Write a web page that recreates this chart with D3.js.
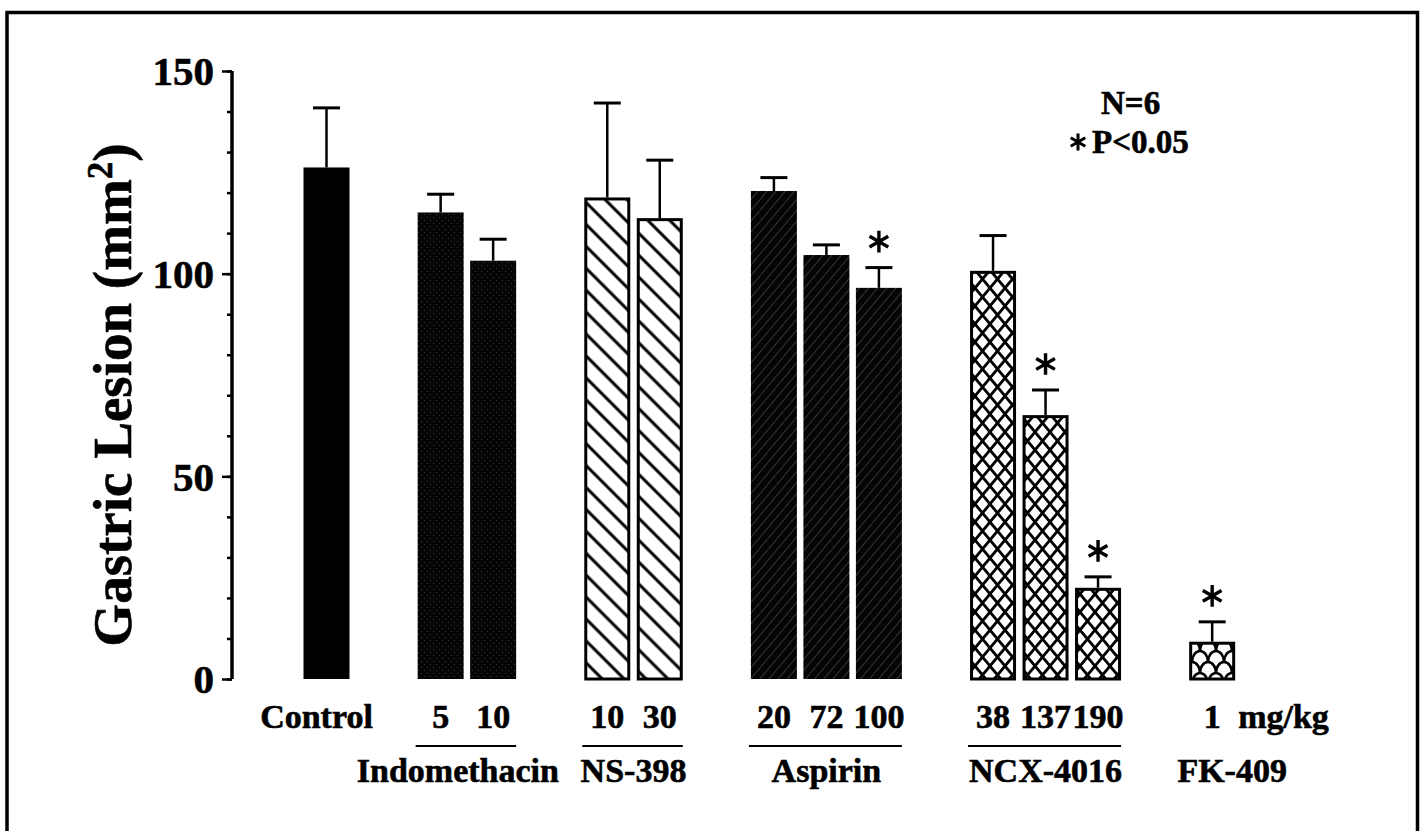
<!DOCTYPE html>
<html>
<head>
<meta charset="utf-8">
<script src="https://cdn.jsdelivr.net/npm/d3@7"></script>
<style>
  html, body { margin: 0; padding: 0; background: #fff; }
  svg { display: block; }
  text { font-family: "Liberation Serif", "Times New Roman", serif; font-weight: bold; fill: #000; stroke: #000; stroke-width: 0.6px; }
</style>
</head>
<body>
<svg id="chart" width="1425" height="831"></svg>
<script>
// ---------------- data ----------------
const groupNames   = ["Control", "Indomethacin", "NS-398", "Aspirin", "NCX-4016", "FK-409"];
const doseLabels   = ["Control", "5", "10", "10", "30", "20", "72", "100", "38", "137", "190", "1"];
const barGroup     = [0, 1, 1, 2, 2, 3, 3, 3, 4, 4, 4, 5];
const meanValues   = [126.2, 115.1, 103.2, 118.8, 113.7, 120.4, 104.6, 96.5, 100.7, 65.1, 22.5, 9.2];
const semValues    = [14.7, 4.5, 5.3, 23.3, 14.3, 3.3, 2.5, 5.0, 8.7, 6.2, 2.7, 4.9];
const significant  = [false, false, false, false, false, false, false, true, false, true, true, true];
const yMajorTicks  = [0, 50, 100, 150];
const yMinorTicks  = d3.range(0, 151, 10);
const unitLabel    = "mg/kg";
const legendLines  = ["N=6", "P<0.05"];

// ---------------- layout ----------------
const svg = d3.select("#chart");
const gapRatio = 1.174;               // extra spacing between drug groups (in bar slots)
const slots = barGroup.map((g, k) => k + g * gapRatio);
const x = d3.scaleLinear().domain([0, 1]).range([326.5, 379]);
const y = d3.scaleLinear().domain([0, 150]).range([679, 71]);
const barW = 46;

// ---------------- patterns ----------------
const defs = svg.append("defs");

// Indomethacin: black with faint fine dots
const pIndo = defs.append("pattern").attr("id", "pIndo").attr("patternUnits", "userSpaceOnUse")
  .attr("width", 6).attr("height", 6);
pIndo.append("rect").attr("width", 6).attr("height", 6).attr("fill", "#050505");
pIndo.append("circle").attr("cx", 1.5).attr("cy", 1.5).attr("r", 0.6).attr("fill", "#3c3c3c");
pIndo.append("circle").attr("cx", 4.5).attr("cy", 4.5).attr("r", 0.6).attr("fill", "#3c3c3c");

// NS-398: white with bold "\" hatching
const pNS = defs.append("pattern").attr("id", "pNS").attr("patternUnits", "userSpaceOnUse")
  .attr("width", 15.5).attr("height", 15.5).attr("patternTransform", "rotate(-45)");
pNS.append("rect").attr("width", 15.5).attr("height", 15.5).attr("fill", "#fff");
pNS.append("line").attr("x1", 7.75).attr("x2", 7.75).attr("y1", 0).attr("y2", 15.5)
  .attr("stroke", "#000").attr("stroke-width", 3);

// Aspirin: black with faint thin "/" lines
const pAsp = defs.append("pattern").attr("id", "pAsp").attr("patternUnits", "userSpaceOnUse")
  .attr("width", 7).attr("height", 7).attr("patternTransform", "rotate(40)");
pAsp.append("rect").attr("width", 7).attr("height", 7).attr("fill", "#050505");
pAsp.append("line").attr("x1", 3.5).attr("x2", 3.5).attr("y1", 0).attr("y2", 7)
  .attr("stroke", "#3a3a3a").attr("stroke-width", 0.9);

// NCX-4016: crosshatch diamonds
const cw = 15, ch = 18;
const pNCX = defs.append("pattern").attr("id", "pNCX").attr("patternUnits", "userSpaceOnUse")
  .attr("width", cw).attr("height", ch);
pNCX.append("rect").attr("width", cw).attr("height", ch).attr("fill", "#fff");
let cross = "";
[-cw, 0, cw].forEach(o => {
  cross += `M${o},0L${o + cw},${ch}M${o + cw},0L${o},${ch}`;
});
pNCX.append("path").attr("d", cross).attr("stroke", "#000").attr("stroke-width", 2.8).attr("fill", "none");

// FK-409: fish scales
const fw = 16, fh = 22;
const pFK = defs.append("pattern").attr("id", "pFK").attr("patternUnits", "userSpaceOnUse")
  .attr("width", fw).attr("height", fh).attr("y", 2);
pFK.append("rect").attr("width", fw).attr("height", fh).attr("fill", "#fff");
const rx = fw / 2, ry = fh / 2;
const scales =
  `M0,${ry}A${rx},${ry} 0 0 1 ${fw},${ry}` +
  `M${-rx},${fh}A${rx},${ry} 0 0 1 ${rx},${fh}` +
  `M${rx},${fh}A${rx},${ry} 0 0 1 ${fw + rx},${fh}` +
  `M0,${fh + ry}A${rx},${ry} 0 0 1 ${fw},${fh + ry}` +
  `M${-rx},0A${rx},${ry} 0 0 1 ${rx},0M${rx},0A${rx},${ry} 0 0 1 ${fw + rx},0`;
pFK.append("path").attr("d", scales).attr("stroke", "#000").attr("stroke-width", 2.6).attr("fill", "none");

const groupFill   = ["#000", "url(#pIndo)", "url(#pNS)", "url(#pAsp)", "url(#pNCX)", "url(#pFK)"];
const groupStroke = [false, false, true, false, true, true];

// ---------------- frame ----------------
svg.append("path")
  .attr("d", "M7,840V12.5H1417.5V840")
  .attr("fill", "none").attr("stroke", "#000").attr("stroke-width", 3.5);

// ---------------- y axis ----------------
const axMinor = svg.append("g").attr("transform", "translate(232,0)")
  .call(d3.axisLeft(y).tickValues(yMinorTicks).tickSize(5).tickFormat(""));
const axMajor = svg.append("g").attr("transform", "translate(232,0)")
  .call(d3.axisLeft(y).tickValues(yMajorTicks).tickSize(10).tickPadding(8).tickFormat(d3.format("d")));
[axMinor, axMajor].forEach(a => {
  a.select(".domain").attr("stroke", "#000").attr("stroke-width", 3)
    .attr("d", `M0,${y(150)}V${y(0)}`);
  a.selectAll(".tick line").attr("stroke", "#000").attr("stroke-width", 2.5);
});
axMajor.selectAll(".tick text")
  .style("font-family", "'Liberation Serif', serif").style("font-weight", "bold")
  .style("font-size", "41px").attr("fill", "#000").attr("dy", "0.34em");

// axis title
svg.append("text")
  .attr("transform", `translate(131,395) rotate(-90)`)
  .attr("text-anchor", "middle")
  .style("font-size", "55px")
  .text("Gastric Lesion (mm")
  .append("tspan").attr("baseline-shift", "super").style("font-size", "35px").text("2")
  .select(function() { return this.parentNode; })
  .append("tspan").text(")");

// ---------------- bars ----------------
const bars = svg.append("g");
meanValues.forEach((v, i) => {
  const cx = x(slots[i]);
  const g = barGroup[i];
  const sw = groupStroke[g] ? 3 : 0;
  bars.append("rect")
    .attr("x", cx - barW / 2 + sw / 2).attr("width", barW - sw)
    .attr("y", y(v) + sw / 2).attr("height", y(0) - y(v) - sw / 2)
    .attr("fill", groupFill[g])
    .attr("stroke", sw ? "#000" : "none").attr("stroke-width", sw);
  const top = y(v + semValues[i]);
  bars.append("line").attr("x1", cx).attr("x2", cx).attr("y1", y(v)).attr("y2", top)
    .attr("stroke", "#000").attr("stroke-width", 2.5);
  bars.append("line").attr("x1", cx - 13.5).attr("x2", cx + 13.5).attr("y1", top).attr("y2", top)
    .attr("stroke", "#000").attr("stroke-width", 3);
  if (significant[i]) {
    bars.append("path").attr("d", d3.symbol(d3.symbolAsterisk, 330)())
      .attr("transform", `translate(${cx},${top - 26})`)
      .attr("stroke", "#000").attr("stroke-width", 3.4).attr("fill", "none");
  }
});

// ---------------- x labels ----------------
const labels = svg.append("g").style("font-size", "34px");
doseLabels.forEach((d, i) => {
  labels.append("text").attr("x", x(slots[i]) + (i === 0 ? -10 : 0)).attr("y", 728)
    .attr("text-anchor", "middle").text(d);
});
labels.append("text").attr("x", x(slots[slots.length - 1]) + 26).attr("y", 728)
  .attr("text-anchor", "start").text(unitLabel);

groupNames.forEach((name, g) => {
  const idx = d3.range(barGroup.length).filter(i => barGroup[i] === g);
  const left = x(slots[idx[0]]) - barW / 2;
  const right = x(slots[idx[idx.length - 1]]) + barW / 2;
  if (g === 0) return;
  if (idx.length > 1) {
    svg.append("line").attr("x1", left - 2).attr("x2", right).attr("y1", 746).attr("y2", 746)
      .attr("stroke", "#000").attr("stroke-width", 2.2);
  }
  const dx = g === 5 ? 20 : (g === 1 ? -9 : 0);
  labels.append("text").attr("x", (left + right) / 2 + dx).attr("y", 782)
    .attr("text-anchor", "middle").text(name);
});

// ---------------- legend ----------------
const legend = svg.append("g").style("font-size", "33px");
legend.append("text").attr("x", 1101).attr("y", 114).text(legendLines[0]);
legend.append("text").attr("x", 1092).attr("y", 153).text(legendLines[1]);
legend.append("path").attr("d", d3.symbol(d3.symbolAsterisk, 200)())
  .attr("transform", "translate(1078,142)")
  .attr("stroke", "#000").attr("stroke-width", 3).attr("fill", "none");
</script>
</body>
</html>
